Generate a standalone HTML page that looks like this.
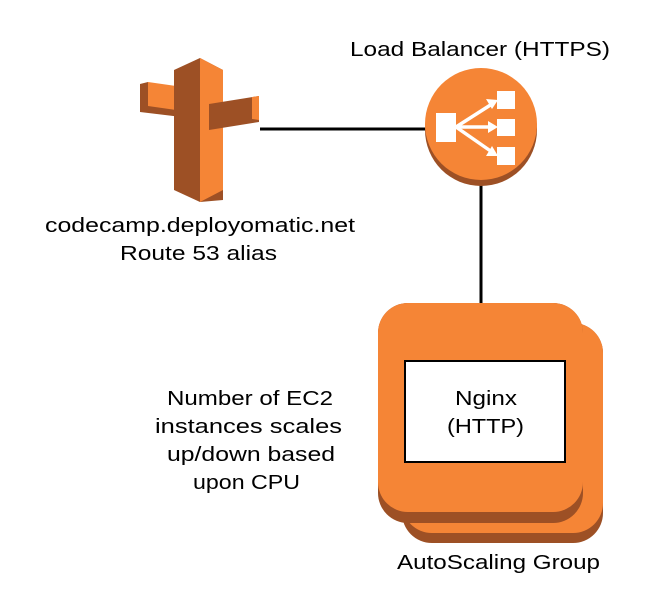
<!DOCTYPE html>
<html><head><meta charset="utf-8"><style>
html,body{margin:0;padding:0;background:#fff;}
svg{display:block;}
text{font-family:"Liberation Sans",sans-serif;font-size:20px;fill:#000;}
</style></head><body>
<svg width="653" height="615" viewBox="0 0 653 615" xmlns="http://www.w3.org/2000/svg">
<polygon points="140,84 190,90 190,118 140,112" fill="#9d5025"/>
<polygon points="148,82 190,88 190,112 148,106" fill="#f58536"/>
<polygon points="140,84 148,82 148,106 140,112" fill="#9d5025"/>
<polygon points="174,70 200,58 223,70 223,200 200,202 174,190" fill="#9d5025"/>
<polygon points="200,58 223,70 223,190 200,202" fill="#f58536"/>
<polygon points="209,104 259,96 259,122 209,130" fill="#9d5025"/>
<polygon points="252,97 259,96 259,120 252,119" fill="#f58536"/>
<line x1="260" y1="129" x2="428" y2="129" stroke="#000" stroke-width="3"/>
<line x1="481" y1="180" x2="481" y2="361" stroke="#000" stroke-width="3"/>
<circle cx="481" cy="130" r="56" fill="#9d5025"/>
<circle cx="481" cy="124" r="56" fill="#f58536"/>
<rect x="436" y="113" width="20" height="29" fill="#fff"/>
<rect x="497" y="91" width="18" height="18" fill="#fff"/>
<rect x="497" y="119" width="18" height="17" fill="#fff"/>
<rect x="497" y="147" width="18" height="18" fill="#fff"/>
<g stroke="#fff" stroke-width="3.5" fill="none">
<line x1="456" y1="127" x2="492" y2="104"/>
<line x1="456" y1="127" x2="492" y2="127"/>
<line x1="456" y1="127" x2="492" y2="152"/>
</g>
<g fill="#fff">
<polygon points="498,100 486,99 492,109"/>
<polygon points="498,127 488,121 488,133"/>
<polygon points="498,156 492,146 486,156"/>
</g>
<rect x="402" y="323" width="201" height="220" rx="30" fill="#9d5025"/>
<rect x="402" y="323" width="201" height="210" rx="30" fill="#f58536"/>
<rect x="378" y="303" width="205" height="220" rx="30" fill="#9d5025"/>
<rect x="378" y="303" width="205" height="209" rx="30" fill="#f58536"/>
<rect x="405" y="361" width="160" height="101" fill="#fff" stroke="#000" stroke-width="2"/>
<text x="455" y="405" textLength="62" lengthAdjust="spacingAndGlyphs">Nginx</text>
<text x="447" y="433" textLength="77" lengthAdjust="spacingAndGlyphs">(HTTP)</text>
<text x="350" y="56" textLength="260" lengthAdjust="spacingAndGlyphs">Load Balancer (HTTPS)</text>
<text x="45" y="232" textLength="310" lengthAdjust="spacingAndGlyphs">codecamp.deployomatic.net</text>
<text x="120" y="260" textLength="157" lengthAdjust="spacingAndGlyphs">Route 53 alias</text>
<text x="167" y="405" textLength="166" lengthAdjust="spacingAndGlyphs">Number of EC2</text>
<text x="155" y="433" textLength="187" lengthAdjust="spacingAndGlyphs">instances scales</text>
<text x="167" y="461" textLength="168" lengthAdjust="spacingAndGlyphs">up/down based</text>
<text x="193" y="489" textLength="107" lengthAdjust="spacingAndGlyphs">upon CPU</text>
<text x="397" y="569" textLength="203" lengthAdjust="spacingAndGlyphs">AutoScaling Group</text>
</svg>
</body></html>
